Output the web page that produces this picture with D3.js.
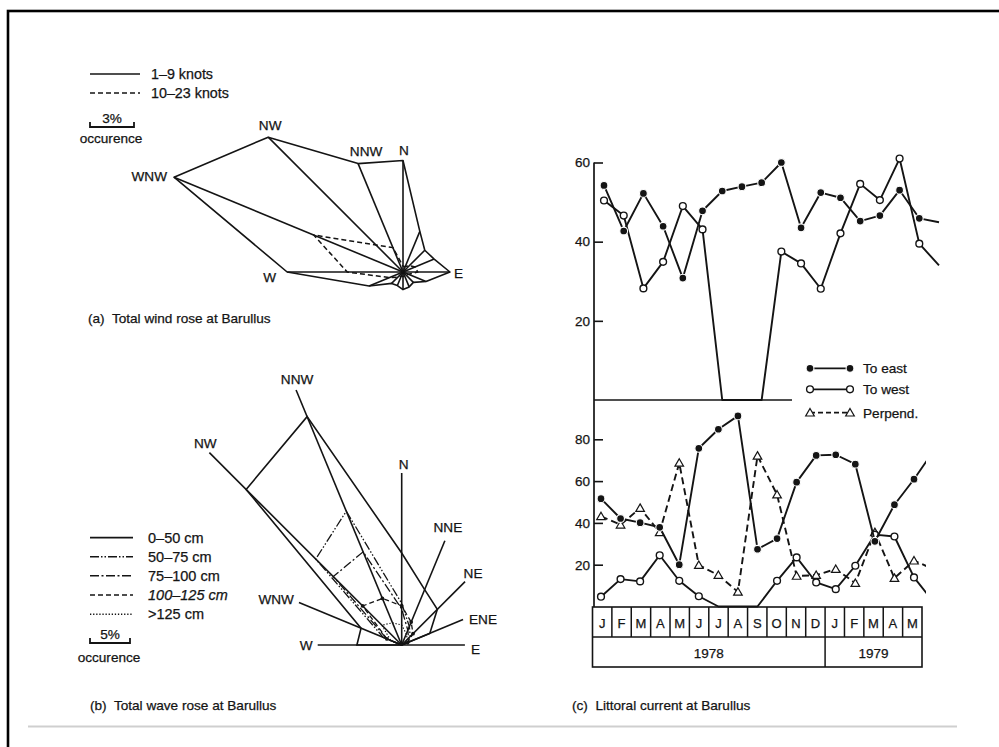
<!DOCTYPE html>
<html>
<head>
<meta charset="utf-8">
<script src="https://cdn.jsdelivr.net/npm/d3@7"></script>
<style>
  body { margin: 0; background: #fff; }
  svg text { font-family: "Liberation Sans", Arial, Helvetica, sans-serif; fill: #141414; stroke: #141414; stroke-width: 0.25; white-space: pre; }
</style>
</head>
<body>
<svg id="fig" width="999" height="747"></svg>
<script>
// ---- (a) wind rose, % occurrence per direction ----
const windDirs = ["N","NNE","NE","ENE","E","ESE","SE","SSE","S","SSW","SW","WSW","W","WNW","NW","NNW"];
const windLow  = [7.6, 3.0, 2.1, 2.3, 3.2, 1.7, 1.0, 1.1, 1.2, 1.0, 1.1, 2.5, 7.9, 16.9, 13.0, 8.0];   // 1-9 knots
const windHigh = [0.4, 0.4, 0.6, 0.9, 1.0, 0.4, 0.3, 0.3, 0.3, 0.3, 0.5, 1.0, 3.8, 6.6, 2.6, 1.8];    // 10-23 knots
const windLabeled = ["N","NNW","NW","WNW","W","E"];

// ---- (b) wave rose ----
const waveDirs = ["W","WNW","NW","NNW","N","NNE","NE","ENE","E"];
const waveAxisLen = [10.5, 13.9, 34, 34.5, 21.5, 14.1, 11.2, 8.3, 7.9];
const waveClasses = ["0–50 cm","50–75 cm","75–100 cm","100–125 cm",">125 cm"];
const wave0_50    = [5.6, 5.5, 27.5, 30.9, 11.5, 7.5, 6.3, 3.8, 0];
const wave50_75   = [0, 2.5, 15.2, 18.1, 5.2, 2.5, 1.5, 0.8, 0];
const wave75_100  = [0, 2.0, 12.1, 12.6, 4.5, 2.0, 1.2, 0.5, 0];
const wave100_125 = [0, 2.0, 6.9, 6.3, 4.9, 3.1, 2.0, 0.8, 0];
const wave125     = [0, 1.5, 3.5, 3.0, 2.5, 1.5, 1.0, 0.5, 0];

// ---- (c) littoral current ----
const months = ["J","F","M","A","M","J","J","A","S","O","N","D","J","F","M","A","M"];
const years = [{label: "1978", n: 12}, {label: "1979", n: 5}];
const topEast = [54.2, 42.7, 52.2, 43.9, 30.8, 47.8, 52.8, 53.9, 54.9, 60, 43.5, 52.4, 51.1, 45.2, 46.6, 53.0, 45.9, 44.9];
const topWest = [50.4, 46.6, 28.2, 34.9, 49, 43.1, 0, 0, 0, 37.5, 34.5, 28.1, 42.1, 54.6, 50.5, 61, 39.5, 34];
const botEast = [51.6, 42.1, 40.1, 37.9, 20, 75.7, 84.8, 91.2, 27.4, 32.5, 59.5, 72.3, 72.6, 68.1, 31.2, 48.7, 60.9, 74.4];
const botWest = [4.7, 13.1, 12, 24.5, 12.3, 4.9, 0, 0, 0, 12.3, 23.5, 11.5, 8.3, 19.5, 34.4, 33.5, 13.9, 2.1];
const botPerp = [43.1, 39.1, 47.1, 35.5, 68.7, 19.8, 15, 7, 72.1, 53.5, 14.6, 15, 17.9, 11.2, 35.5, 13.6, 21.9, 17.9];
const topTicks = [20, 40, 60];
const botTicks = [20, 40, 60, 80];

const ink = "#141414";
const fs = 13.6;
const svg = d3.select("#fig");

// frame + bottom rule
svg.append("rect").attr("x", 8).attr("y", 11).attr("width", 1100).attr("height", 1000)
  .attr("fill", "none").attr("stroke", "#000").attr("stroke-width", 2.6);
svg.append("line").attr("x1", 28).attr("x2", 957).attr("y1", 726.5).attr("y2", 726.5)
  .attr("stroke", "#cfcfcf").attr("stroke-width", 2);

function polar(c, r, dir) {
  const a = windDirs.indexOf(dir) * Math.PI / 8;
  return [c[0] + r * Math.sin(a), c[1] - r * Math.cos(a)];
}

// ================= (a) wind rose =================
const rW = d3.scaleLinear().domain([0, 3]).range([0, 44]);
const windC = [403, 272];
const gA = svg.append("g");

const lowPts = windDirs.map((d, i) => polar(windC, rW(windLow[i]), d));
const highPts = windDirs.map((d, i) => polar(windC, rW(windHigh[i]), d));

gA.selectAll("line.spoke").data(lowPts).enter().append("line")
  .attr("x1", windC[0]).attr("y1", windC[1])
  .attr("x2", d => d[0]).attr("y2", d => d[1])
  .attr("stroke", ink).attr("stroke-width", 1.6);
gA.append("path").attr("d", d3.line()(lowPts) + "Z")
  .attr("fill", "none").attr("stroke", ink).attr("stroke-width", 1.6).attr("stroke-linejoin", "round");
gA.append("path").attr("d", d3.line()(highPts) + "Z")
  .attr("fill", "none").attr("stroke", ink).attr("stroke-width", 1.5).attr("stroke-dasharray", "5,3");

const windLabelPos = {
  N:   {dx: 1, dy: -6, anchor: "middle"},
  NNW: {dx: 8, dy: -8, anchor: "middle"},
  NW:  {dx: 2, dy: -7, anchor: "middle"},
  WNW: {dx: -7, dy: 4, anchor: "end"},
  W:   {dx: -11, dy: 10, anchor: "end"},
  E:   {dx: 4, dy: 6, anchor: "start"}
};
windLabeled.forEach(d => {
  const p = lowPts[windDirs.indexOf(d)];
  const o = windLabelPos[d];
  gA.append("text").attr("x", p[0] + o.dx).attr("y", p[1] + o.dy)
    .attr("text-anchor", o.anchor).attr("font-size", fs).text(d);
});

// legend (a)
gA.append("line").attr("x1", 90).attr("x2", 140).attr("y1", 74).attr("y2", 74)
  .attr("stroke", ink).attr("stroke-width", 1.6);
gA.append("line").attr("x1", 90).attr("x2", 140).attr("y1", 93).attr("y2", 93)
  .attr("stroke", ink).attr("stroke-width", 1.5).attr("stroke-dasharray", "5,3");
gA.append("text").attr("x", 151).attr("y", 79).attr("font-size", 14.3).text("1–9 knots");
gA.append("text").attr("x", 151).attr("y", 98).attr("font-size", 14.3).text("10–23 knots");
function scaleBar(g, x0, y0, w, label, ty) {
  g.append("path").attr("d", `M${x0},${y0 - 5}V${y0}H${x0 + w}V${y0 - 5}`)
    .attr("fill", "none").attr("stroke", ink).attr("stroke-width", 1.8);
  g.append("text").attr("x", x0 + w / 2).attr("y", y0 - 4).attr("text-anchor", "middle")
    .attr("font-size", fs).text(label);
  g.append("text").attr("x", x0 + w / 2 - 1).attr("y", ty).attr("text-anchor", "middle")
    .attr("font-size", fs).text("occurence");
}
scaleBar(gA, 90, 127, rW(3), "3%", 143);
gA.append("text").attr("x", 88).attr("y", 323).attr("font-size", fs).text("(a)  Total wind rose at Barullus");

// ================= (b) wave rose =================
const rV = d3.scaleLinear().domain([0, 5]).range([0, 40]);
const waveC = [401.7, 645];
const gB = svg.append("g");

const waveEnds = waveDirs.map((d, i) => polar(waveC, rV(waveAxisLen[i]), d));
gB.selectAll("line.axis").data(waveEnds).enter().append("line")
  .attr("x1", waveC[0]).attr("y1", waveC[1])
  .attr("x2", d => d[0]).attr("y2", d => d[1])
  .attr("stroke", ink).attr("stroke-width", 1.6);

const waveSeries = [wave0_50, wave50_75, wave75_100, wave100_125, wave125];
const waveDash = [null, "9,2,1.5,2,1.5,2", "9,2.5,2,2.5", "5,3", "1.3,1.8"];
const waveWidth = [1.6, 1.3, 1.3, 1.3, 1.2];
waveSeries.forEach((vals, k) => {
  const pts = waveDirs.map((d, i) => polar(waveC, rV(vals[i]), d));
  gB.append("path").attr("d", d3.line()(pts) + "Z")
    .attr("fill", "none").attr("stroke", ink).attr("stroke-width", waveWidth[k])
    .attr("stroke-dasharray", waveDash[k]);
  if (k === 3) {
    gB.selectAll("circle.w3").data(pts.filter((p, i) => vals[i] > 0)).enter().append("circle")
      .attr("cx", d => d[0]).attr("cy", d => d[1]).attr("r", 1.9).attr("fill", ink);
  }
});

const waveLabelPos = {
  W:   {dx: -5, dy: 5, anchor: "end"},
  WNW: {dx: -5, dy: 2, anchor: "end"},
  NW:  {dx: -4, dy: -5, anchor: "middle"},
  NNW: {dx: 1, dy: -6, anchor: "middle"},
  N:   {dx: 2, dy: -4, anchor: "middle"},
  NNE: {dx: 3, dy: -9, anchor: "middle"},
  NE:  {dx: 8, dy: -4, anchor: "middle"},
  ENE: {dx: 6, dy: 4, anchor: "start"},
  E:   {dx: 6, dy: 9, anchor: "start"}
};
waveDirs.forEach((d, i) => {
  const p = waveEnds[i], o = waveLabelPos[d];
  gB.append("text").attr("x", p[0] + o.dx).attr("y", p[1] + o.dy)
    .attr("text-anchor", o.anchor).attr("font-size", fs).text(d);
});

// legend (b)
const legY = [537.7, 556.7, 575.7, 595, 614.3];
waveClasses.forEach((c, k) => {
  gB.append("line").attr("x1", 90).attr("x2", 133).attr("y1", legY[k]).attr("y2", legY[k])
    .attr("stroke", ink).attr("stroke-width", waveWidth[k] + 0.2).attr("stroke-dasharray", waveDash[k]);
  gB.append("text").attr("x", 148).attr("y", legY[k] + 5).attr("font-size", 14.5)
    .attr("font-style", k === 3 ? "italic" : null).text(c);
});
scaleBar(gB, 90, 643, rV(5), "5%", 662);
gB.append("text").attr("x", 90).attr("y", 710).attr("font-size", fs).text("(b)  Total wave rose at Barullus");

// ================= (c) littoral current =================
const gC = svg.append("g");
const yTop = d3.scaleLinear().domain([0, 60]).range([400, 162.5]);
const yBot = d3.scaleLinear().domain([0, 80]).range([606.5, 439.3]);
const xTop = d3.scaleLinear().domain([0, 17]).range([604, 939]);
const xBot = d3.scaleLinear().domain([0, 16]).range([601, 914]);
const xBand = d3.scaleBand().domain(d3.range(months.length)).range([592.5, 922]);
const axisX = 594;

// axes
gC.append("line").attr("x1", axisX).attr("x2", axisX).attr("y1", 162.5).attr("y2", 607)
  .attr("stroke", ink).attr("stroke-width", 1.7);
gC.append("line").attr("x1", axisX).attr("x2", 792).attr("y1", yTop(0)).attr("y2", yTop(0))
  .attr("stroke", ink).attr("stroke-width", 1.7);
const ay1 = gC.append("g").attr("transform", `translate(${axisX},0)`)
  .call(d3.axisLeft(yTop).tickValues(topTicks).tickSize(-9).tickPadding(4));
const ay2 = gC.append("g").attr("transform", `translate(${axisX},0)`)
  .call(d3.axisLeft(yBot).tickValues(botTicks).tickSize(-9).tickPadding(4));
[ay1, ay2].forEach(a => {
  a.select(".domain").remove();
  a.selectAll(".tick line").attr("stroke", ink).attr("stroke-width", 1.6);
  a.selectAll(".tick text").attr("font-size", 13.5).attr("font-family", null).attr("fill", ink);
});

// month table
const tTop = 607, tMid = 637, tBot = 667;
gC.append("rect").attr("x", 592.5).attr("y", tTop).attr("width", 922 - 592.5).attr("height", tBot - tTop)
  .attr("fill", "none").attr("stroke", ink).attr("stroke-width", 1.6);
gC.append("line").attr("x1", 592.5).attr("x2", 922).attr("y1", tMid).attr("y2", tMid)
  .attr("stroke", ink).attr("stroke-width", 1.6);
gC.selectAll("line.mdiv").data(d3.range(1, months.length)).enter().append("line")
  .attr("x1", i => xBand(i)).attr("x2", i => xBand(i))
  .attr("y1", tTop).attr("y2", i => i === years[0].n ? tBot : tMid)
  .attr("stroke", ink).attr("stroke-width", 1.5);
gC.selectAll("text.month").data(months).enter().append("text")
  .attr("x", (d, i) => xBand(i) + xBand.bandwidth() / 2).attr("y", 627.5)
  .attr("text-anchor", "middle").attr("font-size", 13).text(d => d);
let acc = 0;
years.forEach(yr => {
  const x0 = xBand(acc), x1 = acc + yr.n < months.length ? xBand(acc + yr.n) : 922;
  gC.append("text").attr("x", (x0 + x1) / 2).attr("y", 657.5).attr("text-anchor", "middle")
    .attr("font-size", 13.5).text(yr.label);
  acc += yr.n;
});

// clip for the bottom panel (lines run off at the right)
svg.append("defs").append("clipPath").attr("id", "botclip")
  .append("rect").attr("x", 580).attr("y", 400).attr("width", 346).attr("height", 220);

function drawSeries(g, vals, x, y, dash, marker, markCount) {
  g.append("path")
    .attr("d", d3.line().x((d, i) => x(i)).y(d => y(d))(vals))
    .attr("fill", "none").attr("stroke", ink).attr("stroke-width", 1.9)
    .attr("stroke-dasharray", dash).attr("stroke-linejoin", "round");
  const pts = vals.map((v, i) => ({v, i})).filter(d => d.i < markCount && d.v > 0);
  addMarkers(g, pts.map(d => [x(d.i), y(d.v)]), marker);
}
function addMarkers(g, pts, marker) {
  if (marker === "dot") {
    g.selectAll(null).data(pts).enter().append("circle")
      .attr("cx", d => d[0]).attr("cy", d => d[1]).attr("r", 3.9)
      .attr("fill", ink).attr("stroke", "#fff").attr("stroke-width", 1.1);
  } else if (marker === "ring") {
    g.selectAll(null).data(pts).enter().append("circle")
      .attr("cx", d => d[0]).attr("cy", d => d[1]).attr("r", 3.4)
      .attr("fill", "#fff").attr("stroke", ink).attr("stroke-width", 1.4);
  } else {
    g.selectAll(null).data(pts).enter().append("path")
      .attr("transform", d => `translate(${d[0]},${d[1] + 0.8})`)
      .attr("d", d3.symbol().type(d3.symbolTriangle).size(32))
      .attr("fill", "#fff").attr("stroke", ink).attr("stroke-width", 1.2);
  }
}

const gTop = gC.append("g");
drawSeries(gTop, topWest, xTop, yTop, null, "ring", 17);
drawSeries(gTop, topEast, xTop, yTop, null, "dot", 17);

const gBot = gC.append("g").attr("clip-path", "url(#botclip)");
drawSeries(gBot, botPerp, xBot, yBot, "7,4", "tri", 17);
drawSeries(gBot, botWest, xBot, yBot, null, "ring", 17);
drawSeries(gBot, botEast, xBot, yBot, null, "dot", 17);

// legend (c)
const legC = [
  {label: "To east", y: 368.3, dash: null, marker: "dot"},
  {label: "To west", y: 389.3, dash: null, marker: "ring"},
  {label: "Perpend.", y: 412.7, dash: "5,3", marker: "tri"}
];
legC.forEach(l => {
  gC.append("line").attr("x1", 810).attr("x2", 850).attr("y1", l.y).attr("y2", l.y)
    .attr("stroke", ink).attr("stroke-width", 1.8).attr("stroke-dasharray", l.dash);
  addMarkers(gC, [[810, l.y], [850, l.y]], l.marker);
  gC.append("text").attr("x", 863).attr("y", l.y + 5).attr("font-size", 13.6).text(l.label);
});

gC.append("text").attr("x", 572).attr("y", 710).attr("font-size", fs).text("(c)  Littoral current at Barullus");
</script>
</body>
</html>
